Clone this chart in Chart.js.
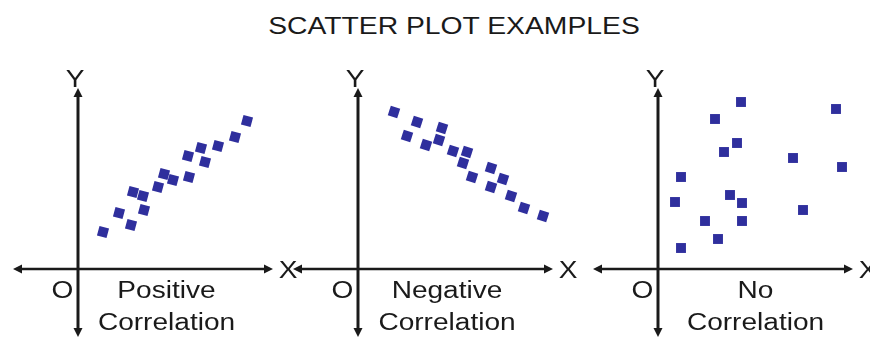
<!DOCTYPE html>
<html>
<head>
<meta charset="utf-8">
<script src="https://cdn.jsdelivr.net/npm/chart.js@4"></script>
<style>
  html, body { margin: 0; padding: 0; background: #fff; }
  body { width: 870px; height: 341px; position: relative; overflow: hidden; }
  canvas { position: absolute; top: 0; }
  #title {
    position: absolute; left: 0; top: 15px; width: 908px; text-align: center;
    font: 23px "Liberation Sans", Arial, sans-serif; line-height: 23px; color: #1a1a1a;
    transform: scaleX(1.23); transform-origin: 454px 0; white-space: nowrap;
  }
</style>
</head>
<body>
<div id="title">SCATTER PLOT EXAMPLES</div>
<canvas id="c1" width="310" height="341" style="left:0px"></canvas>
<canvas id="c2" width="310" height="341" style="left:280px"></canvas>
<canvas id="c3" width="310" height="341" style="left:580px"></canvas>
<script>
/* Trois nuages de points: corrélation positive, négative, nulle. */

const posX = [2.5, 4.1, 5.3, 5.5, 6.5, 6.6, 8.0, 8.6, 9.5, 11.0, 11.1, 12.3, 12.7, 14.0, 15.7, 16.9];
const posY = [3.7, 5.6, 4.4, 7.7, 7.3, 5.9, 8.2, 9.5, 8.9, 11.3, 9.2, 12.1, 10.7, 12.3, 13.2, 14.8];

const negX = [3.6, 5.9, 4.9, 8.4, 6.8, 8.1, 9.5, 10.9, 10.5, 11.4, 13.3, 14.5, 13.3, 15.3, 16.6, 18.5];
const negY = [15.7, 14.7, 13.3, 14.1, 12.4, 12.9, 11.8, 11.7, 10.6, 9.2, 10.1, 9.0, 8.2, 7.3, 6.1, 5.3];

const noneX = [8.3, 5.7, 17.8, 7.9, 6.6, 13.5, 18.4, 2.3, 1.7, 7.2, 8.4, 14.5, 4.7, 8.4, 6.0, 2.3];
const noneY = [16.7, 15.0, 16.0, 12.6, 11.7, 11.1, 10.2, 9.2, 6.7, 7.4, 6.6, 5.9, 4.8, 4.8, 3.0, 2.1];

const captions = [['Positive', 'Correlation'], ['Negative', 'Correlation'], ['No', 'Correlation']];

const FONT = '23px "Liberation Sans", Arial, sans-serif';
const INK = '#1a1a1a';
const BLUE = '#2f2f9d';

function stretchText(ctx, str, x, y) {
  ctx.save();
  ctx.translate(x, y);
  ctx.scale(1.22, 1);
  ctx.fillText(str, 0, 0);
  ctx.restore();
}

function arrowHead(ctx, x, y, dx, dy) {
  // pointe en (x,y), direction (dx,dy)
  const L = 9, W = 4.5;
  ctx.beginPath();
  ctx.moveTo(x, y);
  ctx.lineTo(x - dx * L - dy * W, y - dy * L + dx * W);
  ctx.lineTo(x - dx * L + dy * W, y - dy * L - dx * W);
  ctx.closePath();
  ctx.fill();
}

// axes en croix avec flèches + étiquettes X, Y, O et légende sous l'axe
const crossAxes = {
  id: 'crossAxes',
  beforeDatasetsDraw(chart, args, opts) {
    const { ctx, scales: { x, y } } = chart;
    const ox = x.getPixelForValue(0), oy = y.getPixelForValue(0);
    const xl = x.getPixelForValue(opts.xFrom), xr = x.getPixelForValue(opts.xTo);
    const yt = y.getPixelForValue(opts.yTo), yb = y.getPixelForValue(opts.yFrom);
    ctx.save();
    ctx.strokeStyle = INK; ctx.fillStyle = INK;

    ctx.lineWidth = 2.5;
    ctx.beginPath(); ctx.moveTo(xl + 4, oy); ctx.lineTo(xr - 4, oy); ctx.stroke();
    ctx.lineWidth = 3;
    ctx.beginPath(); ctx.moveTo(ox, yt + 4); ctx.lineTo(ox, yb - 4); ctx.stroke();
    arrowHead(ctx, xl, oy, -1, 0);
    arrowHead(ctx, xr, oy, 1, 0);
    arrowHead(ctx, ox, yt, 0, -1);
    arrowHead(ctx, ox, yb, 0, 1);

    ctx.font = FONT;
    ctx.textAlign = 'center';
    ctx.textBaseline = 'alphabetic';
    stretchText(ctx, 'Y', ox - 3, yt - 1.5);
    stretchText(ctx, 'X', xr + 15, oy + 8.5);
    stretchText(ctx, 'O', ox - 15.5, oy + 28.5);
    stretchText(ctx, opts.lines[0], ox + opts.dx, oy + 29);
    stretchText(ctx, opts.lines[1], ox + opts.dx, oy + 61);
    ctx.restore();
  }
};

function toPoints(xs, ys) {
  return xs.map((v, i) => ({ x: v, y: ys[i] }));
}

function makePanel(id, xs, ys, lines, dx, rot) {
  return new Chart(document.getElementById(id), {
    type: 'scatter',
    data: { datasets: [{
      data: toPoints(xs, ys),
      backgroundColor: BLUE, borderColor: BLUE, borderWidth: 0,
      pointStyle: 'rect', pointRadius: 7, pointRotation: rot
    }] },
    options: {
      responsive: false, animation: false,
      layout: { padding: 0, autoPadding: false },
      plugins: {
        legend: { display: false }, tooltip: { enabled: false },
        crossAxes: { xFrom: -6.5, xTo: 19.5, yFrom: -6.8, yTo: 18.1, lines, dx }
      },
      scales: {
        x: { type: 'linear', display: false, min: -7.8, max: 23.2 },
        y: { type: 'linear', display: false, min: -7.2, max: 26.9 }
      }
    },
    plugins: [crossAxes]
  });
}

makePanel('c1', posX, posY, captions[0], 88.5, 15);
makePanel('c2', negX, negY, captions[1], 89, 18);
makePanel('c3', noneX, noneY, captions[2], 97.5, 0);
</script>
</body>
</html>
